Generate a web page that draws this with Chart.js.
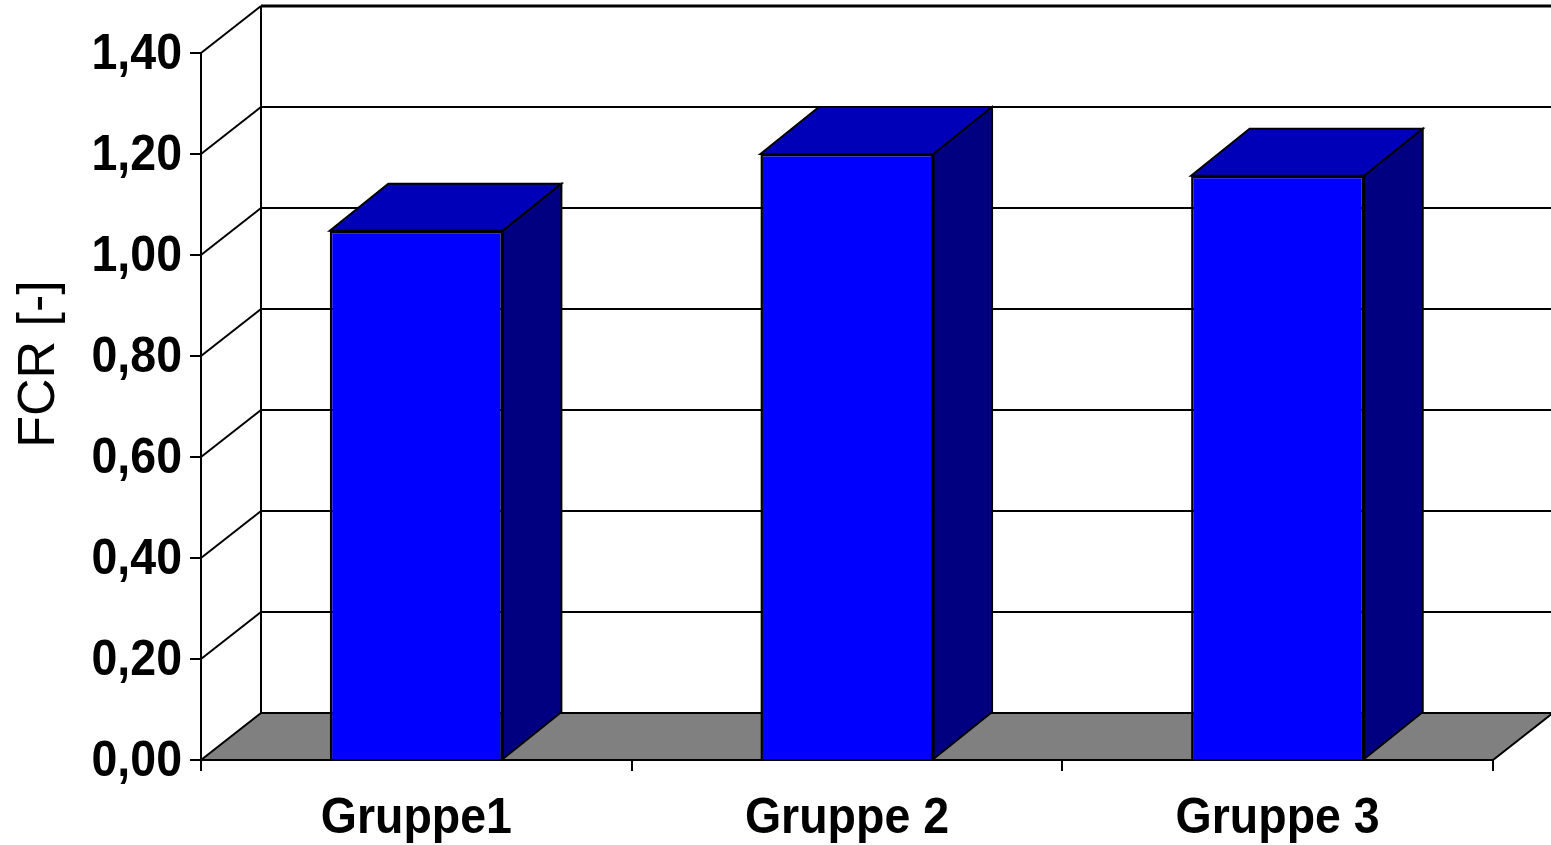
<!DOCTYPE html>
<html>
<head>
<meta charset="utf-8">
<title>FCR</title>
<script src="https://cdn.jsdelivr.net/npm/chart.js@4"></script>
<style>
    html, body { margin: 0; padding: 0; background: #ffffff; overflow: hidden; }
    #wrap { width: 1551px; height: 845px; }
</style>
</head>
<body>
<div id="wrap"><canvas id="fcrChart"></canvas></div>
<script>
// Data
const categories = ['Gruppe1', 'Gruppe 2', 'Gruppe 3'];
const fcrValues = [1.048, 1.20, 1.157];
const yTickLabels = ['0,00', '0,20', '0,40', '0,60', '0,80', '1,00', '1,20', '1,40'];
const yAxisTitle = 'FCR [-]';

// Depth of the fake 3D box (Excel style)
const depthX = 60;
const depthY = -47;
const barDepthX = 58.5;

function face(ctx, points, fill, lineWidth) {
    ctx.beginPath();
    points.forEach((p, i) => i ? ctx.lineTo(p[0], p[1]) : ctx.moveTo(p[0], p[1]));
    ctx.closePath();
    ctx.fillStyle = fill;
    ctx.fill();
    ctx.lineWidth = lineWidth;
    ctx.strokeStyle = '#000000';
    ctx.stroke();
}

// Back wall, floor and the bar sides, drawn from the chart's own scales
const depthPlugin = {
    id: 'depth3d',
    beforeDatasetsDraw(chart) {
        const ctx = chart.ctx;
        const area = chart.chartArea;
        const y = chart.scales.y;
        const w = chart.width;
        const backLeft = area.left + depthX;
        const floorFront = y.getPixelForValue(0);
        const floorBack = floorFront + depthY;
        const wallTop = y.getPixelForValue(1.4) + depthY;

        ctx.save();
        ctx.lineJoin = 'miter';
        ctx.strokeStyle = '#000000';

        // gridlines: slant on the left wall, then straight along the back wall
        y.ticks.forEach(t => {
            if (t.value === 0) return;
            const py = y.getPixelForValue(t.value);
            ctx.lineWidth = 2;
            ctx.beginPath();
            ctx.moveTo(area.left, py);
            ctx.lineTo(backLeft, py + depthY);
            ctx.stroke();
            ctx.lineWidth = t.value >= 1.4 ? 3 : 2;
            ctx.beginPath();
            ctx.moveTo(backLeft, py + depthY);
            ctx.lineTo(w, py + depthY);
            ctx.stroke();
        });

        // back corner
        ctx.lineWidth = 2;
        ctx.beginPath();
        ctx.moveTo(backLeft, wallTop);
        ctx.lineTo(backLeft, floorBack);
        ctx.stroke();

        // floor
        face(ctx, [
            [area.left, floorFront],
            [backLeft, floorBack],
            [area.right + depthX, floorBack],
            [area.right, floorFront]
        ], '#808080', 2);

        // bar top and side, the library draws the front face over them
        chart.getDatasetMeta(0).data.forEach(bar => {
            const l = bar.x - bar.width / 2;
            const r = bar.x + bar.width / 2;
            face(ctx, [[l, bar.y], [l + barDepthX, bar.y + depthY], [r + barDepthX, bar.y + depthY], [r, bar.y]], '#0000b8', 2);
            face(ctx, [[r, bar.y], [r + barDepthX, bar.y + depthY], [r + barDepthX, bar.base + depthY], [r, bar.base]], '#000080', 2);
        });
        ctx.restore();
    },
    afterDraw(chart) {
        // axis title sits above the middle of the axis, so it is placed here
        const ctx = chart.ctx;
        ctx.save();
        ctx.translate(54, 364);
        ctx.rotate(-Math.PI / 2);
        ctx.font = '52px "Liberation Sans"';
        ctx.fillStyle = '#000000';
        ctx.textAlign = 'center';
        ctx.textBaseline = 'alphabetic';
        ctx.plainFillText(yAxisTitle, 0, 0);
        ctx.restore();
    }
};

const canvas = document.getElementById('fcrChart');

// The reference tick labels are a bit narrower than Liberation Sans Bold, squeeze them
const ctx2d = canvas.getContext('2d');
ctx2d.plainFillText = ctx2d.fillText;
ctx2d.fillText = function (text, x, y) {
    this.save();
    this.translate(x, y);
    this.scale(0.93, 1);
    this.plainFillText(text, 0, 0);
    this.restore();
};

new Chart(canvas, {
    type: 'bar',
    data: {
        labels: categories,
        datasets: [{
            data: fcrValues,
            backgroundColor: '#0000ff',
            borderColor: '#000000',
            borderWidth: 2.5,
            barPercentage: 0.402,
            categoryPercentage: 1
        }]
    },
    options: {
        responsive: true,
        maintainAspectRatio: false,
        animation: false,
        layout: { padding: { top: 53, right: 58, left: 0, bottom: 0 } },
        plugins: { legend: { display: false }, tooltip: { enabled: false } },
        scales: {
            x: {
                afterFit: scale => { scale.height = 85; },
                grid: { drawOnChartArea: false, drawTicks: true, tickLength: 11, color: '#000000', lineWidth: 2 },
                border: { display: true, color: '#000000', width: 2 },
                ticks: {
                    color: '#000000',
                    padding: 18,
                    maxRotation: 0,
                    font: { family: '"Liberation Sans"', size: 50, weight: 'bold' }
                }
            },
            y: {
                min: 0,
                max: 1.4,
                afterFit: scale => { scale.width = 201; },
                grid: { drawOnChartArea: false, drawTicks: true, tickLength: 11, color: '#000000', lineWidth: 2 },
                border: { display: true, color: '#000000', width: 2 },
                ticks: {
                    stepSize: 0.2,
                    color: '#000000',
                    padding: 8,
                    labelOffset: 2,
                    callback: (value, index) => yTickLabels[index],
                    font: { family: '"Liberation Sans"', size: 50, weight: 'bold' }
                }
            }
        }
    },
    plugins: [depthPlugin]
});
</script>
</body>
</html>
